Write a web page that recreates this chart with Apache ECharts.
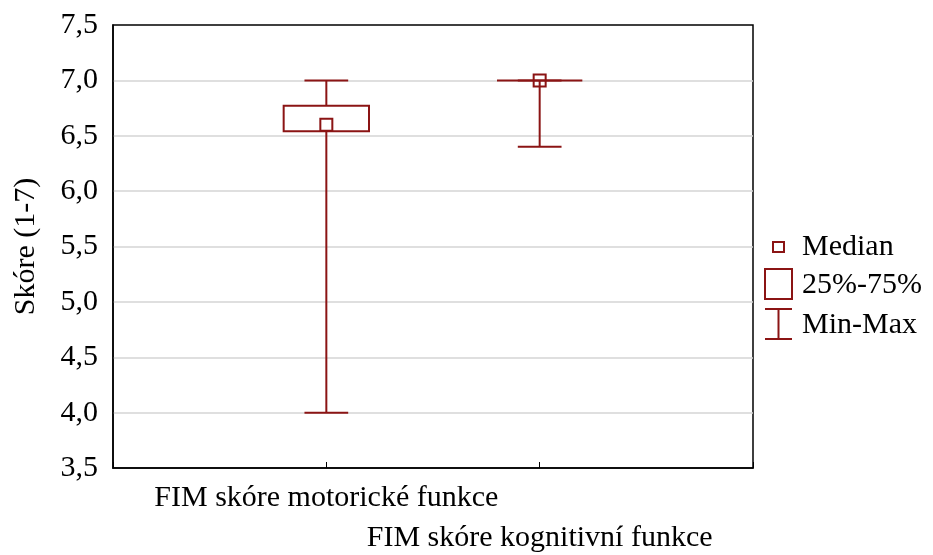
<!DOCTYPE html>
<html>
<head>
<meta charset="utf-8">
<script src="https://cdn.jsdelivr.net/npm/echarts@6/dist/echarts.min.js"></script>
<style>
  html, body { margin: 0; padding: 0; background: #fff; }
  #chart { width: 933px; height: 555px; }
</style>
</head>
<body>
<div id="chart"></div>
<script>
// Box plot of FIM scores: median, quartile box and min-max whiskers
const categories = ['FIM skóre motorické funkce', 'FIM skóre kognitivní funkce'];
const minValues = [4.0, 6.4];
const q1Values = [6.54, 7.0];
const medianValues = [6.6, 7.0];
const q3Values = [6.77, 7.0];
const maxValues = [7.0, 7.0];
const legendLabels = ['Median', '25%-75%', 'Min-Max'];

const RED = '#8b1414';
const FONT = '"Liberation Serif", "Times New Roman", serif';

// each row: [x position, min, q1, median, q3, max]
const rows = categories.map((c, i) => [i + 1, minValues[i], q1Values[i], medianValues[i], q3Values[i], maxValues[i]]);

function renderBox(params, api) {
  const x = api.value(0);
  const pMin = api.coord([x, api.value(1)]);
  const pQ1 = api.coord([x, api.value(2)]);
  const pMed = api.coord([x, api.value(3)]);
  const pQ3 = api.coord([x, api.value(4)]);
  const pMax = api.coord([x, api.value(5)]);
  const boxW = api.size([0.4, 0])[0];
  const capW = api.size([0.205, 0])[0];
  const cx = pMed[0];
  const line = { stroke: RED, lineWidth: 2, fill: null };
  const children = [
    { type: 'line', shape: { x1: cx, y1: pMax[1], x2: cx, y2: pQ3[1] }, style: line },
    { type: 'line', shape: { x1: cx, y1: pQ1[1], x2: cx, y2: pMin[1] }, style: line },
    { type: 'line', shape: { x1: cx - capW / 2, y1: pMax[1], x2: cx + capW / 2, y2: pMax[1] }, style: line },
    { type: 'line', shape: { x1: cx - capW / 2, y1: pMin[1], x2: cx + capW / 2, y2: pMin[1] }, style: line },
    { type: 'rect', shape: { x: cx - boxW / 2, y: pQ3[1], width: boxW, height: pQ1[1] - pQ3[1] }, style: line },
    { type: 'rect', shape: { x: cx - 6, y: pMed[1] - 6, width: 12, height: 12 }, style: line }
  ];
  return { type: 'group', children: children };
}

const chart = echarts.init(document.getElementById('chart'));
const legendX = 765, textX = 802;
chart.setOption({
  backgroundColor: '#fff',
  animation: false,
  grid: {
    left: 113, right: 180, top: 25, bottom: 87,
    outerBoundsMode: 'none', containLabel: false,
    show: true, borderColor: '#000', borderWidth: 1.5, backgroundColor: 'transparent'
  },
  xAxis: {
    type: 'value', min: 0, max: 3, interval: 1,
    axisLine: { show: true, lineStyle: { color: '#000', width: 1.5 } },
    axisTick: { show: true, inside: true, length: 6, lineStyle: { color: '#000' } },
    splitLine: { show: false },
    axisLabel: {
      margin: 10,
      color: '#000', fontFamily: FONT, fontSize: 30, lineHeight: 40,
      formatter: v => {
        const i = Math.round(v) - 1;
        if (i < 0 || i >= categories.length) return '';
        return (i % 2 === 1 ? '\n' : '') + categories[i];
      }
    }
  },
  yAxis: {
    type: 'value', min: 3.5, max: 7.5, interval: 0.5,
    name: 'Skóre (1-7)', nameLocation: 'middle', nameGap: 72,
    nameTextStyle: { color: '#000', fontFamily: FONT, fontSize: 30 },
    axisLine: { show: true, lineStyle: { color: '#000', width: 1.5 } },
    axisTick: { show: false },
    splitLine: { show: true, showMinLine: false, showMaxLine: false, lineStyle: { color: '#d4d4d4', width: 1.5 } },
    axisLabel: {
      margin: 15, color: '#000', fontFamily: FONT, fontSize: 30,
      formatter: v => v.toFixed(1).replace('.', ',')
    }
  },
  series: [{
    type: 'custom',
    renderItem: renderBox,
    data: rows,
    encode: { x: 0, y: [1, 2, 3, 4, 5] },
    z: 5
  }],
  graphic: [
    { type: 'rect', shape: { x: legendX + 8, y: 242, width: 11, height: 10 }, style: { stroke: RED, lineWidth: 2, fill: null } },
    { type: 'rect', shape: { x: legendX, y: 269, width: 27, height: 30 }, style: { stroke: RED, lineWidth: 2, fill: null } },
    { type: 'line', shape: { x1: legendX + 13.5, y1: 309, x2: legendX + 13.5, y2: 339 }, style: { stroke: RED, lineWidth: 2 } },
    { type: 'line', shape: { x1: legendX, y1: 309, x2: legendX + 27, y2: 309 }, style: { stroke: RED, lineWidth: 2 } },
    { type: 'line', shape: { x1: legendX, y1: 339, x2: legendX + 27, y2: 339 }, style: { stroke: RED, lineWidth: 2 } },
    { type: 'text', x: textX, y: 247, style: { text: legendLabels[0], font: '30px ' + FONT, fill: '#000', verticalAlign: 'middle' } },
    { type: 'text', x: textX, y: 285, style: { text: legendLabels[1], font: '30px ' + FONT, fill: '#000', verticalAlign: 'middle' } },
    { type: 'text', x: textX, y: 325, style: { text: legendLabels[2], font: '30px ' + FONT, fill: '#000', verticalAlign: 'middle' } }
  ]
});
</script>
</body>
</html>
